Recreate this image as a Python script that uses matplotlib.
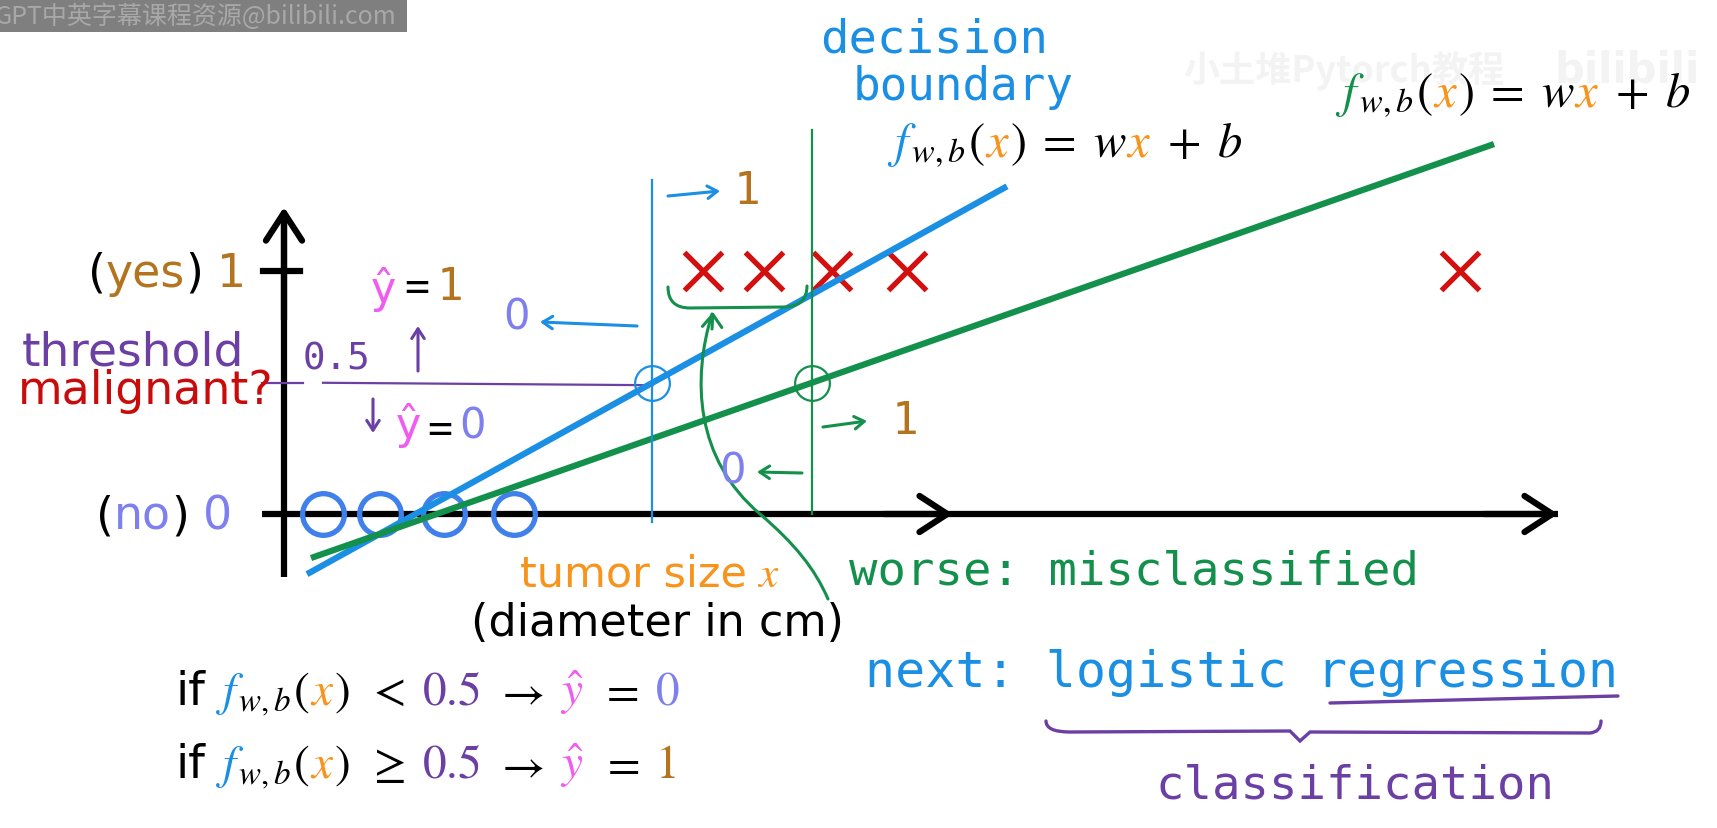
import numpy as np
import matplotlib.pyplot as plt
from matplotlib.patches import PathPatch, Rectangle
from matplotlib.path import Path
from matplotlib.transforms import Affine2D

plt.rcParams['mathtext.fontset'] = 'stix'

# tumor size (cm) and label: 0 = benign (no), 1 = malignant (yes)
benign_x = [0.39, 0.96, 1.60, 2.30]
benign_y = [0, 0, 0, 0]
malignant_x = [4.19, 4.80, 5.48, 6.23, 11.76]
malignant_y = [1, 1, 1, 1, 1]

# straight-line fits f(x) = w*x + b
blue_w, blue_b = 0.228, -0.30      # fit without the far right point
green_w, green_b = 0.144, -0.22    # fit with the far right point
blue_range = [0.23, 7.23]
green_range = [0.27, 12.1]
threshold_drawn = 0.54             # hand-drawn "0.5" line sits a bit high

# colours
BLUE = '#1a8fe3'
GREEN = '#13904b'
ORANGE = '#f7941d'
PURPLE = '#6b3fa3'
PINK = '#f05cf0'
PERI = '#7d80ee'
BROWN = '#b3731f'
RED = '#d21010'
DOT = '#3f80ea'

W, H = 1717, 829
fig = plt.figure(figsize=(W / 100, H / 100), dpi=100)
ax = fig.add_axes([0, 0, 1, 1])
ax.set_xlim(-2.84, 14.33)
ax.set_ylim(-1.2922, 2.1193)
ax.axis('off')

# pixel coords (origin top-left) -> display
PX = Affine2D().scale(1, -1).translate(0, H)
r = fig.canvas.get_renderer()


def rich(x, y, parts, size, family='DejaVu Sans'):
    for s, c, gap in parts:
        t = fig.text(x, y, s, color=c, fontsize=size, family=family,
                     va='baseline', transform=PX)
        x += t.get_window_extent(r).width + gap


def hand(x, y, s, c, size, ha='left', family='DejaVu Sans Mono'):
    fig.text(x, y, s, color=c, fontsize=size, family=family,
             ha=ha, va='center', transform=PX)


def arrow(tail, tip, c, lw=2.2, hl=0.7, hw=0.45, coords=PX):
    ax.annotate('', xy=tip, xytext=tail, xycoords=coords, textcoords=coords,
                arrowprops=dict(arrowstyle=f'->,head_length={hl},head_width={hw}',
                                lw=lw, color=c, shrinkA=0, shrinkB=0,
                                capstyle='round', joinstyle='round'))


def curve(verts, codes, c, lw=2.2):
    fig.add_artist(PathPatch(Path(verts, codes), fc='none', ec=c, lw=lw,
                             capstyle='round', transform=PX))


def rule(y, op, rhs, rhs_color):
    rich(176, y, [('if', 'k', 10), ('$f$', BLUE, -7), ('${}_{w,b}$', 'k', 2), ('$($', 'k', 0),
                  ('$x$', ORANGE, 0), ('$)$', 'k', 18), (op, 'k', 16), ('$0.5$', PURPLE, 15),
                  (r'$\rightarrow$', 'k', 16), (r'$\hat{y}$', PINK, 16), ('$=$', 'k', 16),
                  (rhs, rhs_color, 0)], 34)


def model(x, y, fcolor):
    rich(x, y, [('$f$', fcolor, -6), ('${}_{w,b}$', 'k', 2), ('$($', 'k', 0), ('$x$', ORANGE, 0),
                (r'$)\;=\;w$', 'k', 0), ('$x$', ORANGE, 0), (r'$\;+\;b$', 'k', 0)], 35)


# watermarks (behind everything)
fig.text(1183, 71, '小土堆Pytorch教程', color='#f3f3f3', fontsize=26, weight='bold',
         family=['Noto Sans CJK SC', 'DejaVu Sans'], va='center', transform=PX, zorder=0)
fig.text(1555, 71, 'bilibili', color='#f3f3f3', fontsize=30, weight='bold',
         family='DejaVu Sans', va='center', transform=PX, zorder=0)

# axes drawn by hand
ax.plot([-0.22, 12.74], [0, 0], color='k', lw=4.5, zorder=1, solid_capstyle='butt')
ax.plot([0, 0], [-0.26, 1.24], color='k', lw=4.5, zorder=1, solid_capstyle='butt')
ax.plot([-0.21, 0.16], [1, 1], color='k', lw=4.5, zorder=1)
arrow((6.0, 0), (6.69, 0), 'k', lw=4.5, hl=2.0, hw=1.3, coords='data')
arrow((12.0, 0), (12.74, 0), 'k', lw=4.5, hl=2.0, hw=1.3, coords='data')
arrow((0, 0.8), (0, 1.263), 'k', lw=4.5, hl=2.0, hw=1.3, coords='data')

# data points
ax.plot(benign_x, benign_y, 'o', ms=30, mfc='none', mec=DOT, mew=3.8, zorder=2)
ax.plot(malignant_x, malignant_y, 'x', ms=28, mec=RED, mew=3.8, zorder=2)

# fitted lines
xb = np.array(blue_range)
xg = np.array(green_range)
ax.plot(xb, blue_w * xb + blue_b, color=BLUE, lw=4.5, zorder=3, solid_capstyle='butt')
ax.plot(xg, green_w * xg + green_b, color=GREEN, lw=4.5, zorder=3, solid_capstyle='butt')

# decision boundaries where each line crosses the threshold
bx = (threshold_drawn - blue_b) / blue_w
gx = (threshold_drawn - green_b) / green_w
ax.plot([bx, bx], [-0.033, 1.375], color=BLUE, lw=1.6, zorder=3)
ax.plot([gx, gx], [0.0, 1.58], color=GREEN, lw=1.6, zorder=3)
ax.plot([bx], [threshold_drawn], 'o', ms=25, mfc='none', mec=BLUE, mew=1.6, zorder=4)
ax.plot([gx], [threshold_drawn], 'o', ms=25, mfc='none', mec=GREEN, mew=1.6, zorder=4)

# threshold line
ax.plot([-0.22, 0.19], [threshold_drawn] * 2, color=PURPLE, lw=1.6, zorder=2)
ax.plot([0.39, bx], [threshold_drawn, threshold_drawn - 0.01], color=PURPLE, lw=1.6, zorder=2)

# left labels
rich(88, 287, [('(', 'k', 0), ('yes', BROWN, 0), (')', 'k', 14), ('1', BROWN, 0)], 33)
rich(22, 366, [('threshold', PURPLE, 0)], 34)
rich(18, 404, [('malignant?', '#c80c0c', 0)], 33)
rich(96, 530, [('(', 'k', 0), ('no', PERI, 0), (')', 'k', 14), ('0', PERI, 0)], 33)

# handwritten notes near the threshold
hand(303, 360, '0.5', PURPLE, 27)
hand(383, 290, 'ŷ', PINK, 32, ha='center')
hand(417, 288, '=', 'k', 30, ha='center')
hand(450, 288, '1', BROWN, 32, ha='center')
arrow((418, 372), (418, 327), PURPLE)
arrow((373, 400), (373, 434), PURPLE)
hand(408, 426, 'ŷ', PINK, 32, ha='center')
hand(440, 430, '=', 'k', 30, ha='center')
hand(472, 427, '0', PERI, 30, ha='center', family='DejaVu Sans')

hand(517, 318, '0', PERI, 30, ha='center', family='DejaVu Sans')
arrow((637, 327), (540, 323), BLUE)
arrow((668, 197), (720, 192), BLUE)
hand(747, 192, '1', BROWN, 32, ha='center')
arrow((823, 428), (867, 422), GREEN)
hand(905, 422, '1', BROWN, 32, ha='center')
hand(733, 472, '0', PERI, 30, ha='center', family='DejaVu Sans')
arrow((802, 474), (757, 473), GREEN)

# green brace over the misclassified points and curved arrow
curve([(668, 288), (668, 309), (690, 309), (785, 308), (807, 307), (807, 287)],
      [Path.MOVETO, Path.CURVE3, Path.CURVE3, Path.LINETO, Path.CURVE3, Path.CURVE3], GREEN)
curve([(712, 315), (692, 380), (695, 460), (760, 515), (795, 545), (815, 570), (828, 600)],
      [Path.MOVETO, Path.CURVE4, Path.CURVE4, Path.CURVE4, Path.CURVE4, Path.CURVE4, Path.CURVE4],
      GREEN)
arrow((712, 330), (713, 313), GREEN, hl=0.9, hw=0.7)

# top texts
hand(820, 40, 'decision', BLUE, 34)
hand(853, 88, 'boundary', BLUE, 33)
model(887, 157, BLUE)
model(1335, 107, GREEN)

# axis titles
rich(520, 587, [('tumor size', ORANGE, 10), ('$x$', ORANGE, 0)], 31)
hand(471, 624, '(diameter in cm)', 'k', 32, family='DejaVu Sans')
hand(849, 572, 'worse: misclassified', GREEN, 34)

# decision rules
rule(705, '$<$', '$0$', PERI)
rule(778, r'$\geq$', '$1$', BROWN)

# next: logistic regression
hand(865, 673, 'next: logistic regression', BLUE, 36)
curve([(1330, 704), (1618, 697)], [Path.MOVETO, Path.LINETO], PURPLE, lw=2.4)
curve([(1046, 722), (1046, 733), (1070, 733), (1290, 732), (1300, 742), (1310, 733),
       (1590, 734), (1601, 733), (1601, 722)],
      [Path.MOVETO, Path.CURVE3, Path.CURVE3, Path.LINETO, Path.LINETO, Path.LINETO,
       Path.LINETO, Path.CURVE3, Path.CURVE3], PURPLE, lw=2.4)
hand(1156, 786, 'classification', PURPLE, 34)

# bilibili subtitle box
fig.add_artist(Rectangle((0, 0), 407, 33, fc='#7f7f7f', ec='none', transform=PX))
fig.text(-5, 17, 'GPT中英字幕课程资源@bilibili.com', color='#a8a8a8', fontsize=18,
         family=['Noto Sans CJK SC', 'DejaVu Sans'], va='center', transform=PX)

fig.savefig('out.png', dpi=100)
